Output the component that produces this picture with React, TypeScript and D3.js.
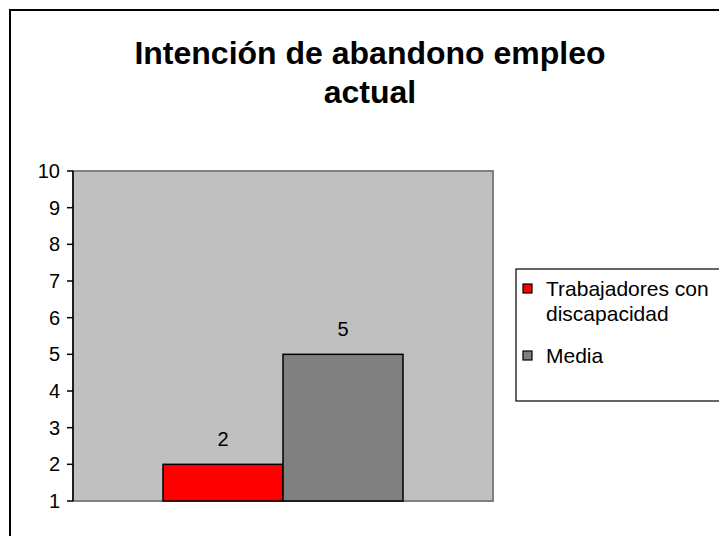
import React from "react";
import * as d3 from "d3";

const title = ["Intención de abandono empleo", "actual"];
const categories = ["Intención de abandono empleo actual"];
const seriesNames = ["Trabajadores con discapacidad", "Media"];
const seriesLegendLines = [["Trabajadores con", "discapacidad"], ["Media"]];
const seriesValues = [2, 5];
const seriesColors = ["#FF0000", "#808080"];
const yTicks = [1, 2, 3, 4, 5, 6, 7, 8, 9, 10];

const W = 719;
const H = 536;
const plot = { left: 73, top: 171, right: 493, bottom: 501 };
const font = "'Liberation Sans', Arial, sans-serif";

export default function App() {
  const y = d3.scaleLinear().domain([1, 10]).range([plot.bottom, plot.top]);
  const xBand = d3
    .scaleBand()
    .domain(categories)
    .range([plot.left, plot.right])
    .paddingOuter(90 / 240);
  const x1 = d3
    .scaleBand()
    .domain(seriesNames)
    .range([0, xBand.bandwidth()]);

  return (
    <svg
      width={W}
      height={H}
      style={{ position: "absolute", left: 0, top: 0, background: "#fff" }}
      fontFamily={font}
    >
      <rect x={10} y={10} width={W + 20} height={H + 20} fill="#fff" stroke="#000" strokeWidth={2} />
      {title.map((t, i) => (
        <text
          key={i}
          x={370}
          y={64 + i * 39}
          textAnchor="middle"
          fontSize={32}
          fontWeight="bold"
          fill="#000"
        >
          {t}
        </text>
      ))}
      <rect
        x={plot.left}
        y={plot.top}
        width={plot.right - plot.left}
        height={plot.bottom - plot.top}
        fill="#C0C0C0"
        stroke="#808080"
        strokeWidth={2}
      />
      {categories.map((c) =>
        seriesNames.map((s, i) => {
          const bx = (xBand(c) ?? 0) + (x1(s) ?? 0);
          const by = y(seriesValues[i]);
          return (
            <g key={s}>
              <rect
                x={bx}
                y={by}
                width={x1.bandwidth()}
                height={plot.bottom - by}
                fill={seriesColors[i]}
                stroke="#000"
                strokeWidth={1.5}
              />
              <text
                x={bx + x1.bandwidth() / 2}
                y={by - 18}
                textAnchor="middle"
                fontSize={20}
                fill="#000"
              >
                {seriesValues[i]}
              </text>
            </g>
          );
        })
      )}
      <line x1={plot.left} x2={plot.left} y1={plot.top} y2={plot.bottom} stroke="#000" strokeWidth={1.5} />
      {yTicks.map((t) => (
        <g key={t}>
          <line x1={plot.left - 6} x2={plot.left} y1={y(t)} y2={y(t)} stroke="#000" strokeWidth={1.5} />
          <text x={60} y={y(t) + 7} textAnchor="end" fontSize={20} fill="#000">
            {t}
          </text>
        </g>
      ))}
      <rect x={516} y={269} width={230} height={132} fill="#fff" stroke="#000" strokeWidth={1.2} />
      {seriesNames.map((s, i) => {
        const top = i === 0 ? 284 : 351;
        return (
          <g key={s}>
            <rect x={523} y={top} width={9} height={9} fill={seriesColors[i]} stroke="#000" strokeWidth={1.2} />
            {seriesLegendLines[i].map((ln, j) => (
              <text key={j} x={546} y={top + 12 + j * 25} fontSize={21} fill="#000">
                {ln}
              </text>
            ))}
          </g>
        );
      })}
    </svg>
  );
}
